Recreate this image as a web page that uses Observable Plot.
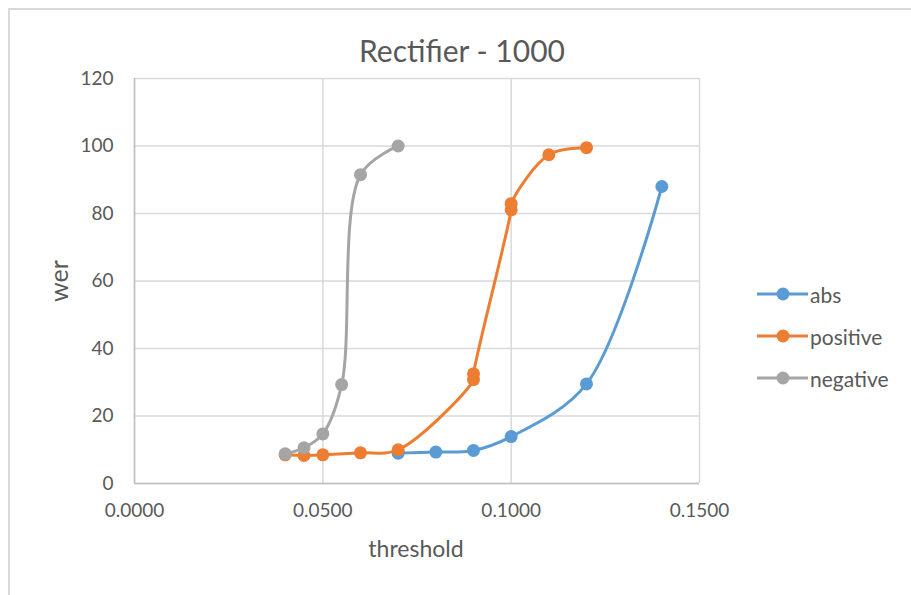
<!DOCTYPE html>
<html>
<head>
<meta charset="utf-8">
<script src="https://cdn.jsdelivr.net/npm/d3@7"></script>
<script src="https://cdn.jsdelivr.net/npm/@observablehq/plot@0.6"></script>
<style>
  html, body { margin: 0; padding: 0; background: #fff; }
  #wrap { position: relative; width: 911px; height: 595px; overflow: hidden; font-family: Lato, "Open Sans", sans-serif; color: #595959; }
  #frame { position: absolute; left: 8px; top: 8px; width: 920px; height: 600px; border: 2px solid #d9d9d9; box-sizing: border-box; }
  #chart { position: absolute; left: 0; top: 0; }
  .lbl { position: absolute; white-space: nowrap; }
  #title { left: 462px; top: 50px; transform: translate(-50%, -50%); font-size: 30px; }
  #xlab { left: 416px; top: 548px; transform: translate(-50%, -50%); font-size: 23px; }
  #ylab { left: 58px; top: 281px; transform: translate(-50%, -50%) rotate(-90deg); font-size: 25px; }
  #legend { position: absolute; left: 755px; top: 0; }
  .item { position: absolute; left: 0; display: flex; align-items: center; font-size: 21px; white-space: nowrap; }
  .item svg { margin-right: 2px; }
</style>
</head>
<body>
<div id="wrap">
  <div id="frame"></div>
  <div id="chart"></div>
  <div class="lbl" id="title"></div>
  <div class="lbl" id="xlab"></div>
  <div class="lbl" id="ylab"></div>
  <div id="legend"></div>
</div>
<script>
const title = "Rectifier - 1000";
const xLabel = "threshold";
const yLabel = "wer";
const seriesNames = ["abs", "positive", "negative"];
const seriesColors = ["#5B9BD5", "#ED7D31", "#A5A5A5"];

const absX = [0.07, 0.08, 0.09, 0.10, 0.12, 0.14];
const absY = [9.0, 9.3, 9.8, 13.9, 29.5, 88.0];

const positiveX = [0.04, 0.045, 0.05, 0.06, 0.07, 0.09, 0.09, 0.10, 0.10, 0.11, 0.12];
const positiveY = [8.5, 8.3, 8.5, 9.1, 10.0, 30.8, 32.5, 81.1, 82.9, 97.4, 99.5];

const negativeX = [0.04, 0.045, 0.05, 0.055, 0.06, 0.07];
const negativeY = [8.8, 10.6, 14.7, 29.3, 91.5, 100.0];

const xTicks = [0, 0.05, 0.10, 0.15];
const yTicks = [0, 20, 40, 60, 80, 100, 120];

const seriesX = [absX, positiveX, negativeX];
const seriesY = [absY, positiveY, negativeY];

const data = [];
seriesNames.forEach((name, s) => {
  seriesX[s].forEach((x, i) => data.push({series: name, x, y: seriesY[s][i], order: i}));
});

const colorScale = {domain: seriesNames, range: seriesColors};

const marks = [
  Plot.gridY(yTicks, {stroke: "#d9d9d9", strokeOpacity: 1, strokeWidth: 1.5}),
  Plot.gridX(xTicks, {stroke: "#d9d9d9", strokeOpacity: 1, strokeWidth: 1.5}),
  Plot.ruleX([0], {stroke: "#bfbfbf", strokeWidth: 1.5}),
  Plot.ruleY([0], {stroke: "#bfbfbf", strokeWidth: 1.5}),
  Plot.axisX(xTicks, {tickSize: 0, tickPadding: 20, tickFormat: d3.format(".4f"), label: null, fontSize: 19, fill: "#595959"}),
  Plot.axisY(yTicks, {tickSize: 0, tickPadding: 21, label: null, fontSize: 19, fill: "#595959"})
];
seriesNames.forEach((name, s) => {
  const d = data.filter(r => r.series === name);
  marks.push(Plot.line(d, {x: "x", y: "y", stroke: seriesColors[s], strokeWidth: 3, curve: "catmull-rom"}));
  marks.push(Plot.dot(d, {x: "x", y: "y", fill: seriesColors[s], r: 6.5, stroke: "none"}));
});

const chart = Plot.plot({
  width: 911,
  height: 595,
  marginLeft: 134,
  marginRight: 212,
  marginTop: 78,
  marginBottom: 112,
  x: {domain: [0, 0.15], label: null},
  y: {domain: [0, 120], label: null},
  color: colorScale,
  style: {fontFamily: "Lato, 'Open Sans', sans-serif", fontSize: "19px", color: "#595959", background: "transparent", overflow: "visible"},
  marks
});
document.getElementById("chart").appendChild(chart);

document.getElementById("title").textContent = title;
document.getElementById("xlab").textContent = xLabel;
document.getElementById("ylab").textContent = yLabel;

const legend = document.getElementById("legend");
const rowY = [294, 336, 378];
seriesNames.forEach((name, s) => {
  const item = document.createElement("div");
  item.className = "item";
  item.style.top = (rowY[s] - 13) + "px";
  item.style.height = "26px";
  item.innerHTML = `<svg width="53" height="26"><line x1="2" y1="13" x2="53" y2="13" stroke="${seriesColors[s]}" stroke-width="3"/><circle cx="28" cy="13" r="6.5" fill="${seriesColors[s]}"/></svg><span>${name}</span>`;
  legend.appendChild(item);
});
</script>
</body>
</html>
